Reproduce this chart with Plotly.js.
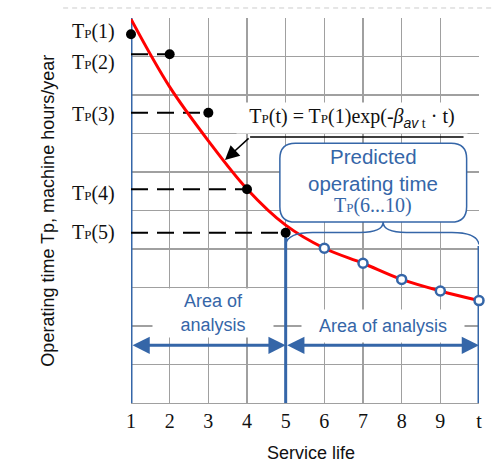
<!DOCTYPE html>
<html><head><meta charset="utf-8">
<script src="https://cdn.plot.ly/plotly-3.0.1.min.js"></script>
<style>html,body{margin:0;padding:0;background:#fff;} #chart{width:493px;height:462px;}</style>
</head><body><div id="chart"></div>
<script>
// ---- data ----
const serviceLife = [1, 2, 3, 4, 5, 6, 7, 8, 9, 10];
const tickLabels = ['1', '2', '3', '4', '5', '6', '7', '8', '9', 't'];
const curveValues = [9.97, 8.21, 6.81, 5.56, 4.62, 4.02, 3.63, 3.21, 2.91, 2.66];
const observedT = [1, 2, 3, 4, 5];
const observedValues = [9.58, 9.06, 7.54, 5.55, 4.42];
const observedNames = ['1', '2', '3', '4', '5'];
const predictedT = [6, 7, 8, 9, 10];
const predictedValues = [4.02, 3.63, 3.21, 2.91, 2.66];

// ---- styling / layout ----
const BLUE = '#3566a8';
const SERIF = 'Liberation Serif, Times New Roman, serif';
const SANS = 'Liberation Sans, Arial, sans-serif';
const P = '<span style="font-size:13px">P</span>';
const labelShift = [0.06, -0.22, -0.05, -0.10, 0.02];

const traces = [
  {x: serviceLife, y: curveValues, mode: 'lines', line: {color: '#ff0000', width: 3, shape: 'spline', smoothing: 1},
   hoverinfo: 'skip', cliponaxis: false},
  {x: observedT, y: observedValues, mode: 'markers', marker: {color: '#000', size: 10}, cliponaxis: false},
  {x: predictedT, y: predictedValues, mode: 'markers', cliponaxis: false,
   marker: {color: '#fff', size: 9, line: {color: BLUE, width: 2.5}}}
];

const shapes = [];
// blue vertical lines
shapes.push({type: 'line', layer: 'between', x0: serviceLife[0], x1: serviceLife[0], y0: 0, y1: 10, line: {color: BLUE, width: 3}});
shapes.push({type: 'line', layer: 'between', x0: observedT[4], x1: observedT[4], y0: 0, y1: observedValues[4], line: {color: BLUE, width: 3}});
shapes.push({type: 'line', layer: 'between', x0: predictedT[4], x1: predictedT[4], y0: 0, y1: 4.08, line: {color: BLUE, width: 3}});
// dashed guide lines
for (let i = 1; i < observedT.length; i++) {
  shapes.push({type: 'line', layer: 'between', x0: serviceLife[0], x1: observedT[i], y0: observedValues[i], y1: observedValues[i],
    line: {color: '#000', width: 2, dash: '17px,9px'}});
}
// formula underline
shapes.push({type: 'line', layer: 'above', x0: 4.08, x1: 9.6, y0: 6.91, y1: 6.91, line: {color: '#000', width: 1.5}});
// callout rounded box
(function () {
  const x0 = 4.85, x1 = 9.68, y0 = 4.70, y1 = 6.75, r = 0.4;
  const d = `M${x0 + r},${y1} L${x1 - r},${y1} Q${x1},${y1} ${x1},${y1 - r} L${x1},${y0 + r} Q${x1},${y0} ${x1 - r},${y0} ` +
            `L${x0 + r},${y0} Q${x0},${y0} ${x0},${y0 + r} L${x0},${y1 - r} Q${x0},${y1} ${x0 + r},${y1} Z`;
  shapes.push({type: 'path', layer: 'between', path: d, fillcolor: '#fff', line: {color: BLUE, width: 1.5}});
})();
// brace over predicted area
(function () {
  const xa = observedT[4], xb = predictedT[4], xm = (xa + xb) / 2 + 0.02;
  const ye = 4.12, yf = 4.43, yp = 4.70;
  const d = `M${xa},${ye} Q${xa + 0.05},${yf} ${xa + 0.7},${yf} L${xm - 0.6},${yf} Q${xm},${yf} ${xm},${yp} ` +
            `Q${xm},${yf} ${xm + 0.6},${yf} L${xb - 0.7},${yf} Q${xb - 0.05},${yf} ${xb},${ye}`;
  shapes.push({type: 'path', layer: 'above', path: d, line: {color: BLUE, width: 1.5}});
})();
// faint dashed page border at top
shapes.push({type: 'line', xref: 'paper', yref: 'paper', x0: -0.195, x1: 1.04, y0: 1.026, y1: 1.026,
  line: {color: '#cccccc', width: 1, dash: '5px,4px'}});

const annotations = [];
// T_P(n) labels
observedNames.forEach((n, i) => {
  annotations.push({xref: 'paper', yref: 'y', x: -0.04, y: observedValues[i] + labelShift[i], xanchor: 'right', yanchor: 'middle',
    text: 'T' + P + '(' + n + ')', showarrow: false, font: {family: SERIF, size: 20, color: '#111'}});
});
// formula
annotations.push({x: 6.72, y: 7.40, xanchor: 'center', yanchor: 'middle', showarrow: false, bgcolor: '#fff', width: 228, height: 28,
  text: 'T' + P + '(t) = T' + P + '(1)exp(-<i>β</i><sub><span style="font-family:Liberation Sans;font-style:italic">av</span> t</sub> · t)',
  font: {family: SERIF, size: 20, color: '#111'}});
// formula arrow
annotations.push({x: 3.43, y: 6.31, ax: 4.08, ay: 6.91, axref: 'x', ayref: 'y', text: '', showarrow: true,
  arrowhead: 2, arrowsize: 1.9, arrowwidth: 1.5, arrowcolor: '#000', standoff: 0});
// callout text
annotations.push({x: 7.27, y: 6.41, showarrow: false, text: 'Predicted', font: {family: SANS, size: 20.5, color: BLUE}});
annotations.push({x: 7.27, y: 5.71, showarrow: false, text: 'operating time', font: {family: SANS, size: 20.5, color: BLUE}});
annotations.push({x: 7.27, y: 5.12, showarrow: false, text: 'T' + P + '(6...10)', font: {family: SERIF, size: 20, color: BLUE}});
// area labels
annotations.push({x: 3.12, y: 2.35, showarrow: false, text: 'Area of<br>analysis', bgcolor: '#fff', width: 118, height: 46,
  font: {family: SANS, size: 18, color: BLUE}});
annotations.push({x: 7.52, y: 2.0, showarrow: false, text: 'Area of analysis', bgcolor: '#fff', width: 160, height: 30,
  font: {family: SANS, size: 18, color: BLUE}});
// area arrows
annotations.push({x: observedT[4], y: 1.5, ax: serviceLife[0], ay: 1.5, axref: 'x', ayref: 'y', text: '', showarrow: true,
  arrowside: 'end+start', arrowhead: 2, startarrowhead: 2, arrowsize: 1.15, startarrowsize: 1.15, arrowwidth: 3, arrowcolor: BLUE, standoff: 0, startstandoff: 0});
annotations.push({x: predictedT[4], y: 1.5, ax: observedT[4], ay: 1.5, axref: 'x', ayref: 'y', text: '', showarrow: true,
  arrowside: 'end+start', arrowhead: 2, startarrowhead: 2, arrowsize: 1.15, startarrowsize: 1.15, arrowwidth: 3, arrowcolor: BLUE, standoff: 0, startstandoff: 0});
// axis titles
annotations.push({xref: 'paper', yref: 'paper', x: 0.517, y: -0.13, xanchor: 'center', yanchor: 'middle', showarrow: false, text: 'Service life',
  font: {family: SANS, size: 18, color: '#111'}});
annotations.push({xref: 'paper', yref: 'paper', x: -0.241, y: 0.5, xanchor: 'center', yanchor: 'middle', showarrow: false, textangle: -90,
  text: 'Operating time Tp, machine hours/year', font: {family: SANS, size: 18, color: '#111'}});

const layout = {
  width: 493, height: 462,
  margin: {l: 131, r: 14, t: 18, b: 59},
  paper_bgcolor: '#fff', plot_bgcolor: '#fff',
  showlegend: false,
  xaxis: {range: [1, 10], tickvals: serviceLife, ticktext: tickLabels, showgrid: true, gridcolor: '#a0a0a0', gridwidth: 1.4,
    zeroline: false, showline: true, linecolor: '#a0a0a0', linewidth: 1.4, ticks: '',
    tickfont: {family: SERIF, size: 20, color: '#111'}, fixedrange: true},
  yaxis: {range: [0, 10], tickvals: [1, 2, 3, 4, 5, 6, 7, 8, 9], showticklabels: false, showgrid: true, gridcolor: '#a0a0a0', gridwidth: 1.4,
    zeroline: false, showline: false, ticks: '', fixedrange: true},
  shapes: shapes,
  annotations: annotations
};

Plotly.newPlot('chart', traces, layout, {displayModeBar: false, staticPlot: true});
</script>
</body></html>
